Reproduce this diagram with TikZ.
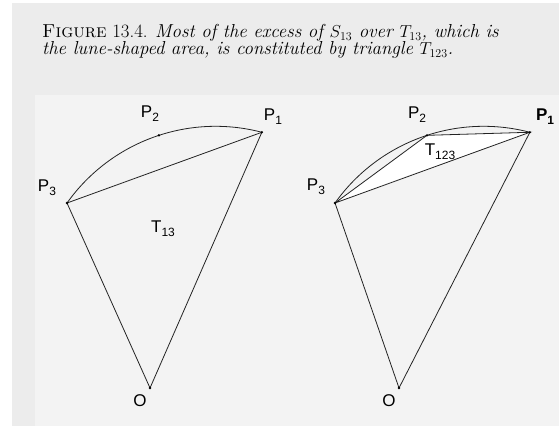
\documentclass[tikz,border=0pt]{standalone}
\usepackage{fontspec}
\newfontfamily\labelfont{Liberation Sans}
\usetikzlibrary{calc}
\definecolor{outergray}{RGB}{236,236,236}
\definecolor{innergray}{RGB}{243,243,243}
\definecolor{linegray}{RGB}{35,35,35}
\newcommand{\lsub}[1]{\raisebox{-0.45ex}{\fontsize{12}{12}\selectfont #1}}

\begin{document}
\begin{tikzpicture}[x=1pt, y=1pt,
  edge/.style={linegray, line width=0.8pt},
  vertex/.style={circle, fill=black, inner sep=0pt, minimum size=2.6pt},
  ptlabel/.style={font=\labelfont\fontsize{17}{17}\selectfont, inner sep=0pt},
  capline/.style={anchor=base west, inner sep=0pt, font=\fontsize{18.8}{18.8}\selectfont}]
  % 参数定义
  \def\rad{182.3}
  \def\aone{75.3}
  \def\atwo{108.1}
  \def\athree{144.6}

  \useasboundingbox (0,0) rectangle (559,429);

  % ===== 背景 =====
  \fill[white] (0,0) rectangle (559,429);
  \fill[outergray] (12,3) rectangle (559,426);
  \fill[innergray] (35,3) rectangle (559,334);

  % ===== 图题 =====
  \node[capline] (capone) at (42,391.3)
    {\textsc{Figure} 13.4. \textit{Most of the excess of $S_{13}$ over $T_{13}$, which is}};
  \node[capline] (captwo) at (42,374)
    {\textit{the lune-shaped area, is constituted by triangle $T_{123}$.}};

  % ===== 左图：扇形与三角形 T13 =====
  \coordinate (CL) at (215.6,120.4);
  \coordinate (P1L) at ($(CL)+(\aone:\rad)$);
  \coordinate (P2L) at ($(CL)+(\atwo:\rad)$);
  \coordinate (P3L) at ($(CL)+(\athree:\rad)$);
  \coordinate (OL) at (150,41);
  \draw[edge] (P1L) arc[start angle=\aone, end angle=\athree, radius=\rad];
  \draw[edge] (P3L) -- (P1L) -- (OL) -- (P3L);
  \foreach \p in {P1L, P2L, P3L, OL}
    \node[vertex] at (\p) {};
  \node[ptlabel] (lP1L) at (273,312) {P\lsub{1}};
  \node[ptlabel] (lP2L) at (150,315) {P\lsub{2}};
  \node[ptlabel] (lP3L) at (47,241) {P\lsub{3}};
  \node[ptlabel] (lT13) at (163,200) {T\lsub{13}};
  \node[ptlabel] (lOL) at (140,28) {O};

  % ===== 右图：三角形 T123 =====
  \coordinate (CR) at (483.6,120.4);
  \coordinate (P1R) at ($(CR)+(\aone:\rad)$);
  \coordinate (P2R) at ($(CR)+(\atwo:\rad)$);
  \coordinate (P3R) at ($(CR)+(\athree:\rad)$);
  \coordinate (OR) at (399,41);
  \fill[white] (P1R) -- (P2R) -- (P3R) -- cycle;
  \draw[edge] (P1R) arc[start angle=\aone, end angle=\athree, radius=\rad];
  \draw[edge] (P3R) -- (P2R) -- (P1R) -- (P3R);
  \draw[edge] (P3R) -- (OR) -- (P1R);
  \foreach \p in {P1R, P2R, P3R, OR}
    \node[vertex] at (\p) {};
  \node[ptlabel, font=\labelfont\bfseries\fontsize{17}{17}\selectfont] (lP1R) at (545,312) {P\lsub{1}};
  \node[ptlabel] (lP2R) at (417,314) {P\lsub{2}};
  \node[ptlabel] (lP3R) at (316,242) {P\lsub{3}};
  \node[ptlabel] (lT123) at (440,277) {T\lsub{123}};
  \node[ptlabel] (lOR) at (389,28) {O};
\end{tikzpicture}
\end{document}
